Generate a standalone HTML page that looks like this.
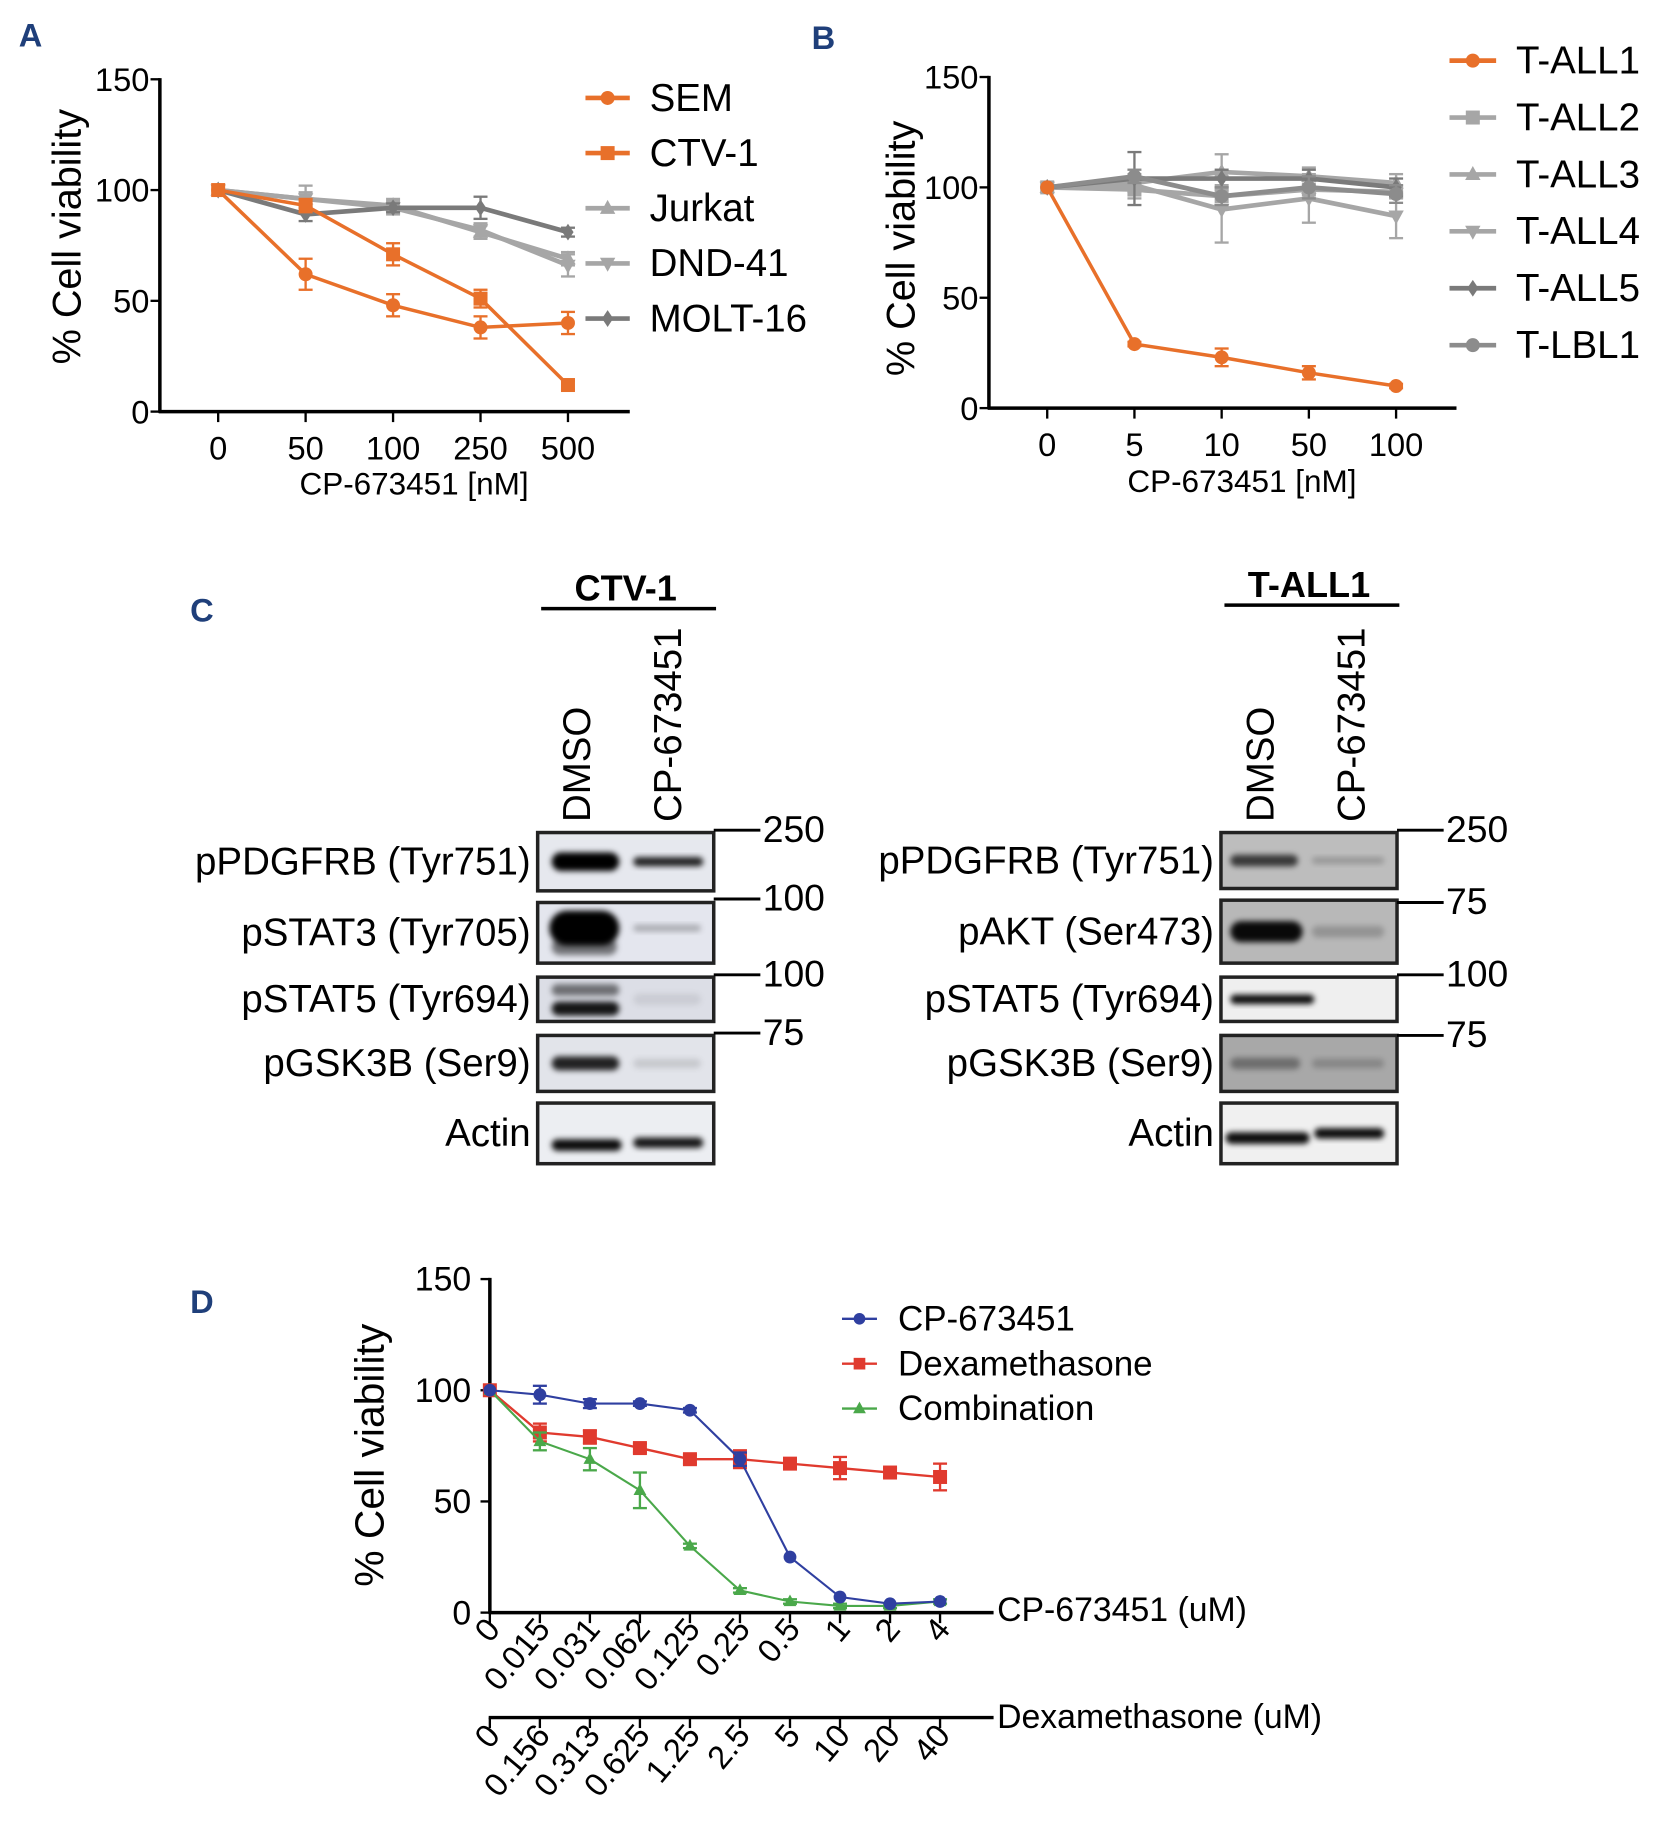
<!DOCTYPE html>
<html><head><meta charset="utf-8">
<style>
html,body{margin:0;padding:0;background:#fff;}
svg{display:block;font-family:"Liberation Sans",Arial,sans-serif;}
</style></head>
<body>
<svg id="fig" width="1656" height="1833" viewBox="0 0 1420 1572" xmlns="http://www.w3.org/2000/svg">
<defs>
<filter id="blur" x="-20%" y="-50%" width="140%" height="200%"><feGaussianBlur stdDeviation="2.5"/></filter>
</defs>
<g id="root"></g>
</svg>
<script>
// ---- Panel A data ----
const catsA = ["0","50","100","250","500"];
const semVals = [100,62,48,38,40];
const semErr = [0,7,5,5,5];
const ctvVals = [100,93,71,51,12];
const ctvErr = [0,3,5,4,2];
const jurkatVals = [100,96,93,81,69];
const jurkatErr = [0,6,3,3,3];
const dndVals = [100,96,92,82,66];
const dndErr = [0,3,3,3,5];
const moltVals = [100,89,92,92,81];
const moltErr = [0,3,2,5,2];
const yTicksA = [0,50,100,150];
// ---- Panel B data ----
const catsB = ["0","5","10","50","100"];
const tall1Vals = [100,29,23,16,10];
const tall1Err = [0,1,4,3,1];
const tall2Vals = [100,99,96,99,98];
const tall2Err = [0,4,5,4,3];
const tall3Vals = [100,102,107,105,102];
const tall3Err = [0,4,8,4,4];
const tall4Vals = [100,101,90,95,87];
const tall4Err = [0,3,15,11,10];
const tall5Vals = [100,104,104,104,100];
const tall5Err = [0,12,4,4,4];
const tlbl1Vals = [100,105,96,100,97];
const tlbl1Err = [0,3,4,5,4];
const yTicksB = [0,50,100,150];
// ---- Panel D data ----
const catsCP = ["0","0.015","0.031","0.062","0.125","0.25","0.5","1","2","4"];
const catsDex = ["0","0.156","0.313","0.625","1.25","2.5","5","10","20","40"];
const cpVals = [100,98,94,94,91,69,25,7,4,5];
const cpErr = [0,4,2,1,1,3,0,0,0,0];
const dexVals = [100,81,79,74,69,69,67,65,63,61];
const dexErr = [0,4,3,2,2,4,2,5,2,6];
const combVals = [100,77,69,55,30,10,5,3,3,5];
const combErr = [0,4,5,8,1,1,1,1,1,1];
const yTicksD = [0,50,100,150];

const NS="http://www.w3.org/2000/svg";
const root=document.getElementById('root');
function el(tag,attrs,parent,txt){const e=document.createElementNS(NS,tag);for(const k in attrs)e.setAttribute(k,attrs[k]);if(txt!==undefined)e.textContent=txt;(parent||root).appendChild(e);return e;}

function marker(g,shape,x,y,s,color){
  let m;
  if(shape==='circle') m=el('circle',{cx:x,cy:y,r:s,fill:color},g);
  else if(shape==='square') m=el('rect',{x:x-s,y:y-s,width:2*s,height:2*s,fill:color},g);
  else if(shape==='tri') m=el('polygon',{points:`${x},${y-s*1.2} ${x-s*1.1},${y+s*0.8} ${x+s*1.1},${y+s*0.8}`,fill:color},g);
  else if(shape==='tridown') m=el('polygon',{points:`${x},${y+s*1.2} ${x-s*1.1},${y-s*0.8} ${x+s*1.1},${y-s*0.8}`,fill:color},g);
  else m=el('polygon',{points:`${x},${y-s*1.2} ${x-s*0.8},${y} ${x},${y+s*1.2} ${x+s*0.8},${y}`,fill:color},g);
  
  
  return m;
}
function series(name,vals,errs,xf,yf,color,shape,sw,ms){
  const g=el('g',{});
  
  
  const pts=vals.map((v,i)=>xf(i)+','+yf(v)).join(' ');
  el('polyline',{points:pts,fill:'none',stroke:color,'stroke-width':sw},g);
  vals.forEach((v,i)=>{
    const e=errs[i];
    if(e>0){const x=xf(i);
      el('line',{x1:x,x2:x,y1:yf(v-e),y2:yf(v+e),stroke:color,'stroke-width':2},g);
      el('line',{x1:x-6,x2:x+6,y1:yf(v-e),y2:yf(v-e),stroke:color,'stroke-width':2},g);
      el('line',{x1:x-6,x2:x+6,y1:yf(v+e),y2:yf(v+e),stroke:color,'stroke-width':2},g);}
  });
  vals.forEach((v,i)=>marker(g,shape,xf(i),yf(v),ms,color));
}
function text(x,y,s,attrs,name){const t=el('text',Object.assign({x:x,y:y},attrs),root,s);
  
  return t;}

function panelLetter(s,x,y){text(x,y,s,{'font-size':28,'font-weight':'bold',fill:'#1f3f7a'},'panel-label-'+s.toLowerCase());}

// ---------- Panel A ----------
panelLetter('A',16,40);
const xA=i=>187+75*i, yA=v=>353-1.9*v;
el('line',{x1:137,y1:yA(150)-1,x2:137,y2:354,stroke:'#000','stroke-width':3});
el('line',{x1:136,y1:353,x2:540,y2:353,stroke:'#000','stroke-width':3});
yTicksA.forEach(v=>{el('line',{x1:129,x2:137,y1:yA(v),y2:yA(v),stroke:'#000','stroke-width':2});
  text(128,yA(v)+10,String(v),{'font-size':28,'text-anchor':'end'},'y-tick-label');});
catsA.forEach((c,i)=>{el('line',{x1:xA(i),x2:xA(i),y1:353,y2:362,stroke:'#000','stroke-width':2});
  text(xA(i),394,c,{'font-size':28,'text-anchor':'middle'},'x-tick-label');});
text(355,424,'CP-673451 [nM]',{'font-size':27,'text-anchor':'middle'},'x-axis-title-a');
text(0,0,'% Cell viability',{'font-size':34,'text-anchor':'middle',transform:'translate(69,203) rotate(-90)'},'y-axis-title-a');
const ORANGE='#e8702a', G1='#a6a6a6', G2='#8c8c8c', G3='#7a7a7a';
series('jurkat',jurkatVals,jurkatErr,xA,yA,G1,'tri',4,6);
series('dnd-41',dndVals,dndErr,xA,yA,G1,'tridown',4,6);
series('molt-16',moltVals,moltErr,xA,yA,G3,'diamond',4,6);
series('ctv-1',ctvVals,ctvErr,xA,yA,ORANGE,'square',3,6);
series('sem',semVals,semErr,xA,yA,ORANGE,'circle',3,6);
const legA=[['SEM',ORANGE,'circle'],['CTV-1',ORANGE,'square'],['Jurkat',G1,'tri'],['DND-41',G1,'tridown'],['MOLT-16',G3,'diamond']];
legA.forEach((l,i)=>{const y=84+47.3*i;const g=el('g',{});
  
  
  el('line',{x1:502,x2:540,y1:y,y2:y,stroke:l[1],'stroke-width':4},g);marker(g,l[2],521,y,6,l[1]);
  el('text',{x:557,y:y+11,'font-size':33},g,l[0]);});

// ---------- Panel B ----------
panelLetter('B',696,42);
const xB=i=>898+74.8*i, yB=v=>350-1.893*v;
el('line',{x1:848,y1:yB(150)-1,x2:848,y2:351,stroke:'#000','stroke-width':3});
el('line',{x1:847,y1:350,x2:1249,y2:350,stroke:'#000','stroke-width':3});
yTicksB.forEach(v=>{el('line',{x1:840,x2:848,y1:yB(v),y2:yB(v),stroke:'#000','stroke-width':2});
  text(839,yB(v)+10,String(v),{'font-size':28,'text-anchor':'end'},'y-tick-label');});
catsB.forEach((c,i)=>{el('line',{x1:xB(i),x2:xB(i),y1:350,y2:359,stroke:'#000','stroke-width':2});
  text(xB(i),391,c,{'font-size':28,'text-anchor':'middle'},'x-tick-label');});
text(1065,422,'CP-673451 [nM]',{'font-size':27,'text-anchor':'middle'},'x-axis-title-b');
text(0,0,'% Cell viability',{'font-size':34,'text-anchor':'middle',transform:'translate(784,213) rotate(-90)'},'y-axis-title-b');
series('t-all2',tall2Vals,tall2Err,xB,yB,G1,'square',4,6);
series('t-all3',tall3Vals,tall3Err,xB,yB,G1,'tri',4,6);
series('t-all4',tall4Vals,tall4Err,xB,yB,G1,'tridown',4,6);
series('t-all5',tall5Vals,tall5Err,xB,yB,G3,'diamond',4,6);
series('t-lbl1',tlbl1Vals,tlbl1Err,xB,yB,G2,'circle',4,6);
series('t-all1',tall1Vals,tall1Err,xB,yB,ORANGE,'circle',3,6);
const legB=[['T-ALL1',ORANGE,'circle'],['T-ALL2',G1,'square'],['T-ALL3',G1,'tri'],['T-ALL4',G1,'tridown'],['T-ALL5',G3,'diamond'],['T-LBL1',G2,'circle']];
legB.forEach((l,i)=>{const y=52+48.8*i;const g=el('g',{});
  
  
  el('line',{x1:1243,x2:1283,y1:y,y2:y,stroke:l[1],'stroke-width':4},g);marker(g,l[2],1263,y,6,l[1]);
  el('text',{x:1300,y:y+11,'font-size':33},g,l[0]);});

// ---------- Panel C ----------
panelLetter('C',163,533);
function blot(title,bx,titleY,lanes,labels,rows,mws,bands){
  const bw=151;
  text(bx+bw/2,titleY,title,{'font-size':31,'font-weight':'bold','text-anchor':'middle'},'blot-title');
  el('line',{x1:bx+3,x2:bx+bw+2,y1:titleY+7,y2:titleY+7,stroke:'#000','stroke-width':3});
  lanes.forEach((ln,i)=>text(0,0,ln,{'font-size':33,transform:`translate(${bx+45+i*78},705) rotate(-90)`},'lane-label'));
  rows.forEach((r,i)=>{
    const g=el('g',{});
    
    
    el('rect',{x:bx,y:r[0],width:bw,height:r[1]-r[0],fill:r[2],stroke:'#222','stroke-width':3},g);
    bands[i].forEach(b=>{el('rect',{x:bx+b[0],y:(r[0]+r[1])/2-b[2]/2+b[3],width:b[1],height:b[2],rx:b[2]/2,fill:'#000','fill-opacity':b[4],filter:'url(#blur)'},g);});
    text(bx-6,(r[0]+r[1])/2+11,labels[i],{'font-size':33,'text-anchor':'end'},'blot-label');
  });
  mws.forEach(m=>{el('line',{x1:bx+bw,x2:bx+bw+40,y1:m[0],y2:m[0],stroke:'#000','stroke-width':2.5});
    text(bx+bw+42,m[0]+10,m[1],{'font-size':32},'mw-marker');});
}
blot('CTV-1',461,515,['DMSO','CP-673451'],
  ['pPDGFRB (Tyr751)','pSTAT3 (Tyr705)','pSTAT5 (Tyr694)','pGSK3B (Ser9)','Actin'],
  [[714,764,'#e6e8ee'],[774,826,'#e4e6ee'],[838,876,'#dcdee6'],[888,936,'#e2e4ea'],[946,998,'#eceef2']],
  [[712,'250'],[771,'100'],[836,'100'],[886,'75']],
  [[[12,58,16,0,1],[82,60,8,0,0.85]],[[10,60,30,-4,1],[82,58,6,-4,0.25],[12,56,14,12,0.5]],[[12,58,12,8,0.9],[12,58,10,-8,0.5],[82,58,10,0,0.08]],[[12,58,12,0,0.85],[82,58,8,0,0.12]],[[12,60,10,10,0.95],[82,60,9,8,0.9]]]);
blot('T-ALL1',1047,512,['DMSO','CP-673451'],
  ['pPDGFRB (Tyr751)','pAKT (Ser473)','pSTAT5 (Tyr694)','pGSK3B (Ser9)','Actin'],
  [[714,762,'#bdbdbd'],[772,826,'#b8b8b8'],[838,876,'#efefef'],[888,936,'#a8a8a8'],[946,998,'#f0f0f0']],
  [[712,'250'],[774,'75'],[836,'100'],[888,'75']],
  [[[8,58,10,0,0.7],[78,62,6,0,0.2]],[[8,62,18,0,0.95],[78,62,10,0,0.2]],[[8,72,8,0,0.95]],[[8,60,10,0,0.35],[78,62,8,0,0.2]],[[4,72,10,4,0.95],[80,60,9,0,0.95]]]);

// ---------- Panel D ----------
panelLetter('D',163,1126);
const xD=i=>420+42.9*i, yD=v=>1383-1.907*v;
el('line',{x1:420,y1:yD(150)-1,x2:420,y2:1384,stroke:'#000','stroke-width':3});
el('line',{x1:419,y1:1383,x2:852,y2:1383,stroke:'#000','stroke-width':3});
el('line',{x1:419,y1:1473,x2:852,y2:1473,stroke:'#000','stroke-width':3});
yTicksD.forEach(v=>{el('line',{x1:412,x2:420,y1:yD(v),y2:yD(v),stroke:'#000','stroke-width':2});
  text(404,yD(v)+10,String(v),{'font-size':29,'text-anchor':'end'},'y-tick-label');});
catsCP.forEach((c,i)=>{el('line',{x1:xD(i),x2:xD(i),y1:1383,y2:1392,stroke:'#000','stroke-width':2});
  text(0,0,c,{'font-size':28,'text-anchor':'end',transform:`translate(${xD(i)+10},1398) rotate(-50)`},'x-tick-label-cp');});
catsDex.forEach((c,i)=>{el('line',{x1:xD(i),x2:xD(i),y1:1473,y2:1482,stroke:'#000','stroke-width':2});
  text(0,0,c,{'font-size':28,'text-anchor':'end',transform:`translate(${xD(i)+10},1489) rotate(-50)`},'x-tick-label-dex');});
text(855,1390,'CP-673451 (uM)',{'font-size':29},'x-axis-title-cp');
text(855,1482,'Dexamethasone (uM)',{'font-size':29},'x-axis-title-dex');
text(0,0,'% Cell viability',{'font-size':35,'text-anchor':'middle',transform:'translate(329,1248) rotate(-90)'},'y-axis-title-d');
const BLUE='#2f3fa0', RED='#e03a2e', GREEN='#4aa84a';
series('dexamethasone',dexVals,dexErr,xD,yD,RED,'square',2,6);
series('combination',combVals,combErr,xD,yD,GREEN,'tri',1.8,5);
series('cp-673451',cpVals,cpErr,xD,yD,BLUE,'circle',1.8,5.5);
const legD=[['CP-673451',BLUE,'circle'],['Dexamethasone',RED,'square'],['Combination',GREEN,'tri']];
legD.forEach((l,i)=>{const y=1131+38.5*i;const g=el('g',{});
  
  
  el('line',{x1:722,x2:752,y1:y,y2:y,stroke:l[1],'stroke-width':2},g);marker(g,l[2],737,y,5,l[1]);
  el('text',{x:770,y:y+10,'font-size':30},g,l[0]);});
</script>
</body></html>
